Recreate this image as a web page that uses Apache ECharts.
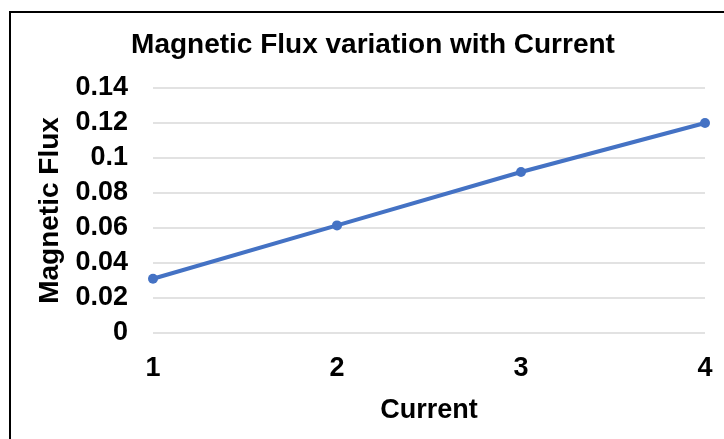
<!DOCTYPE html>
<html>
<head>
<meta charset="utf-8">
<style>
  html, body { margin: 0; padding: 0; background: #ffffff; }
  #chart { width: 724px; height: 439px; }
</style>
<script src="https://cdn.jsdelivr.net/npm/echarts@6/dist/echarts.min.js"></script>
</head>
<body>
<div id="chart"></div>
<script>
// Current (x categories) and measured magnetic flux
const currents = ['1', '2', '3', '4'];
const fluxValues = [0.031, 0.0615, 0.092, 0.12];
const fluxTicks = { min: 0, max: 0.14, step: 0.02 };

const FONT = '"Liberation Sans", Arial, sans-serif';
const chart = echarts.init(document.getElementById('chart'), null, { renderer: 'canvas' });

chart.setOption({
  backgroundColor: '#ffffff',
  animation: false,
  title: {
    text: 'Magnetic Flux variation with Current',
    left: 368,
    textAlign: 'center',
    top: 26,
    textStyle: { fontFamily: FONT, fontWeight: 'bold', fontSize: 28, color: '#000000' }
  },
  graphic: [{
    type: 'rect',
    shape: { x: 10, y: 12, width: 740, height: 460 },
    style: { fill: 'none', stroke: '#000000', lineWidth: 2 },
    silent: true
  }],
  grid: { left: 153, right: 19, top: 88, bottom: 106 },
  xAxis: {
    type: 'category',
    data: currents,
    boundaryGap: false,
    name: 'Current',
    nameLocation: 'middle',
    nameGap: 64,
    nameTextStyle: { fontFamily: FONT, fontWeight: 'bold', fontSize: 27, color: '#000000' },
    axisLine: { show: false },
    axisTick: { show: false },
    axisLabel: { fontFamily: FONT, fontWeight: 'bold', fontSize: 27, color: '#000000', margin: 22 },
    splitLine: { show: false }
  },
  yAxis: {
    type: 'value',
    min: fluxTicks.min,
    max: fluxTicks.max,
    interval: fluxTicks.step,
    name: 'Magnetic Flux',
    nameLocation: 'middle',
    nameGap: 84,
    nameTextStyle: { fontFamily: FONT, fontWeight: 'bold', fontSize: 28, color: '#000000' },
    axisLine: { show: false },
    axisTick: { show: false },
    axisLabel: {
      fontFamily: FONT, fontWeight: 'bold', fontSize: 27, color: '#000000', margin: 25,
      formatter: v => String(parseFloat(v.toFixed(2)))
    },
    splitLine: { lineStyle: { color: '#d9d9d9', width: 1.5 } }
  },
  series: [{
    type: 'line',
    data: fluxValues,
    symbol: 'circle',
    symbolSize: 10,
    lineStyle: { color: '#4472C4', width: 4 },
    itemStyle: { color: '#4472C4' }
  }]
});
</script>
</body>
</html>
